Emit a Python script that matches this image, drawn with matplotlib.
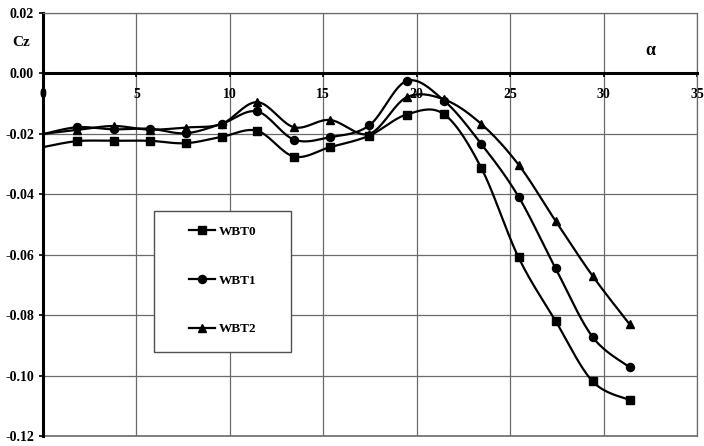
import numpy as np
import matplotlib
matplotlib.use("Agg")
import matplotlib.pyplot as plt
from matplotlib.patches import Rectangle
from matplotlib.lines import Line2D

alpha = [0, 1.83, 3.78, 5.71, 7.63, 9.56, 11.47, 13.43, 15.36, 17.46,
         19.46, 21.46, 23.45, 25.45, 27.43, 29.41, 31.39]
wbt0 = [-0.0244, -0.0224, -0.0223, -0.0223, -0.0231, -0.0210, -0.0190, -0.0275, -0.0244, -0.0206,
        -0.0136, -0.0135, -0.0312, -0.0609, -0.0819, -0.1019, -0.1081]
wbt1 = [-0.0201, -0.0178, -0.0185, -0.0183, -0.0198, -0.0167, -0.0126, -0.0219, -0.0211, -0.0172,
        -0.0025, -0.0090, -0.0233, -0.0408, -0.0645, -0.0872, -0.0972]
wbt2 = [-0.0200, -0.0187, -0.0174, -0.0186, -0.0179, -0.0167, -0.0095, -0.0178, -0.0154, -0.0200,
        -0.0079, -0.0086, -0.0167, -0.0302, -0.0488, -0.0670, -0.0830]
labels = ["WBT0", "WBT1", "WBT2"]
markers = ["s", "o", "^"]

plt.rcParams['font.family'] = ['Liberation Serif', 'DejaVu Serif']
plt.rcParams['font.weight'] = 'bold'


def smooth(x, y, n=20):
    # excel style smoothed line (bezier through the points)
    pts = np.column_stack([x, y])
    p = np.vstack([pts[0], pts, pts[-1]])
    t = np.linspace(0, 1, n)[:, None]
    out = []
    for i in range(1, len(p) - 2):
        p0, p1, p2, p3 = p[i - 1], p[i], p[i + 1], p[i + 2]
        b1 = p1 + (p2 - p0) / 6
        b2 = p2 - (p3 - p1) / 6
        out.append((1 - t)**3 * p1 + 3 * (1 - t)**2 * t * b1 + 3 * (1 - t) * t**2 * b2 + t**3 * p2)
    return np.vstack(out)


fig = plt.figure(figsize=(7.04, 4.46), dpi=100)
ax = fig.add_axes([43 / 704, 1 - 436 / 446, 654 / 704, 423 / 446])
ax.set_xlim(0, 35)
ax.set_ylim(-0.12, 0.02)

ax.set_xticks(np.arange(0, 36, 5))
ax.set_yticks(np.arange(-0.12, 0.021, 0.02))
ax.set_yticklabels(["%.2f" % v for v in np.arange(-0.12, 0.021, 0.02)])
ax.grid(True, color='#6a6a6a', linewidth=0.9)
ax.set_axisbelow(True)

ax.spines['bottom'].set_position(('data', 0))
ax.spines['bottom'].set_linewidth(2.2)
ax.spines['left'].set_linewidth(2.2)
for s in ['top', 'right']:
    ax.spines[s].set_color('#6a6a6a')
    ax.spines[s].set_linewidth(0.9)
ax.axhline(-0.12, color='#6a6a6a', linewidth=1.2, clip_on=False)

ax.tick_params(axis='x', direction='out', length=3, width=1.2, pad=7.5, labelsize=10)
ax.tick_params(axis='y', direction='out', length=3, width=1.2, pad=3.5, labelsize=10)
for lab in ax.get_xticklabels() + ax.get_yticklabels():
    lab.set_fontweight('bold')

for ys, m in zip([wbt0, wbt1, wbt2], markers):
    c = smooth(alpha, ys)
    ax.plot(c[:, 0], c[:, 1], color='black', linewidth=1.6, zorder=3)
    ax.plot(alpha[1:], ys[1:], linestyle='none', marker=m, color='black', markersize=5.8, zorder=4)

ax.text(-1.15, 0.0102, "Cz", fontsize=11, fontweight='bold', ha='center', va='center')
ax.text(32.5, 0.0076, "α", fontsize=13, fontweight='bold', ha='center', va='center')

ax.add_patch(Rectangle((5.94, -0.0922), 7.33, 0.0468, facecolor='white',
                       edgecolor='#505050', linewidth=1.0, zorder=5))
handles = [Line2D([], [], color='black', linewidth=1.6, marker=m, markersize=5.8) for m in markers]
ax.legend(handles, labels, loc='center', bbox_to_anchor=(0.2745, 0.3676), frameon=False,
          prop={'weight': 'bold', 'size': 9.5}, labelspacing=2.75,
          handlelength=2.0, handletextpad=0.25).set_zorder(6)

fig.savefig("out.png", dpi=100)
